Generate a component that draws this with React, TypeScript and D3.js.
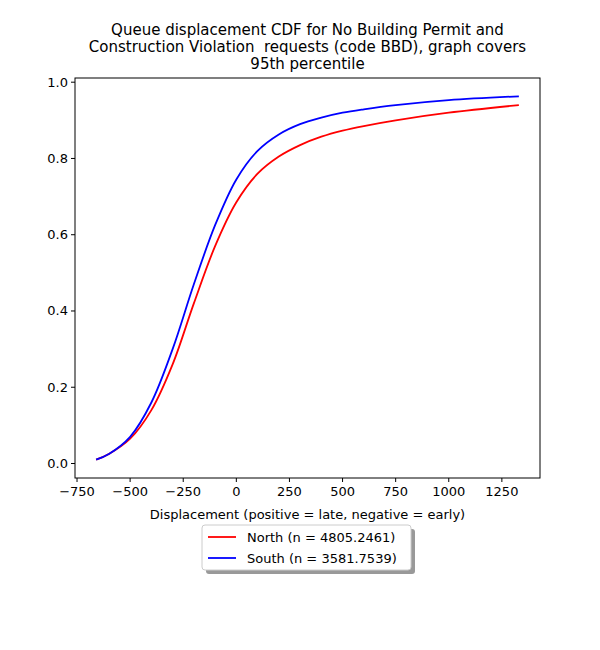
import React from "react";
import * as d3 from "d3";

const xs = [-660, -600, -500, -400, -300, -200, -100, 0, 100, 200, 300, 400, 500, 600, 750, 1000, 1330];
const north = [0.01, 0.025, 0.065, 0.14, 0.26, 0.42, 0.57, 0.685, 0.76, 0.805, 0.835, 0.857, 0.873, 0.885, 0.9, 0.92, 0.94];
const south = [0.01, 0.025, 0.07, 0.16, 0.3, 0.47, 0.625, 0.745, 0.82, 0.863, 0.89, 0.907, 0.92, 0.929, 0.94, 0.953, 0.963];
const xTicks = [-750, -500, -250, 0, 250, 500, 750, 1000, 1250];
const yTicks = [0, 0.2, 0.4, 0.6, 0.8, 1.0];
const titleLines = [
  "Queue displacement CDF for No Building Permit and",
  "Construction Violation  requests (code BBD), graph covers",
  "95th percentile",
];
const series = [
  { name: "North (n = 4805.2461)", color: "red", values: north },
  { name: "South (n = 3581.7539)", color: "blue", values: south },
];

export default function App() {
  const L = 75, R = 540, T = 78, B = 478;
  const x = d3.scaleLinear().domain([-759.5, 1429.5]).range([L, R]);
  const y = d3.scaleLinear().domain([-0.038, 1.011]).range([B, T]);
  const line = d3.line<number>().x((_, i) => x(xs[i])).y((v) => y(v)).curve(d3.curveCatmullRom.alpha(0.5));
  const font = "DejaVu Sans, sans-serif";
  return (
    <svg width={600} height={650} style={{ position: "absolute", left: 0, top: 0 }} fontFamily={font}>
      <rect width={600} height={650} fill="white" />
      {titleLines.map((t, i) => (
        <text key={i} x={(L + R) / 2} y={35 + i * 17} textAnchor="middle" fontSize={15} style={{ whiteSpace: "pre" }}>{t}</text>
      ))}
      {series.map((s) => (
        <path key={s.name} d={line(s.values) || ""} fill="none" stroke={s.color} strokeWidth={1.8} />
      ))}
      <rect x={L} y={T} width={R - L} height={B - T} fill="none" stroke="black" strokeWidth={1} />
      {xTicks.map((t) => (
        <g key={t}>
          <line x1={x(t)} x2={x(t)} y1={B} y2={B + 4} stroke="black" />
          <text x={x(t)} y={B + 18} textAnchor="middle" fontSize={13}>{t < 0 ? "\u2212" + Math.abs(t) : String(t)}</text>
        </g>
      ))}
      {yTicks.map((t) => (
        <g key={t}>
          <line x1={L - 4} x2={L} y1={y(t)} y2={y(t)} stroke="black" />
          <text x={L - 7} y={y(t) + 4.5} textAnchor="end" fontSize={13}>{t.toFixed(1)}</text>
        </g>
      ))}
      <text x={(L + R) / 2} y={519} textAnchor="middle" fontSize={13}>Displacement (positive = late, negative = early)</text>
      <g>
        <rect x={206} y={529} width={209} height={45} rx={3} fill="#555" opacity={0.6} />
        <rect x={202} y={525} width={209} height={45} rx={3} fill="white" stroke="#ccc" />
        {series.map((s, i) => (
          <g key={s.name}>
            <line x1={208} x2={236} y1={537 + i * 21} y2={537 + i * 21} stroke={s.color} strokeWidth={1.8} />
            <text x={247} y={542 + i * 21} fontSize={13}>{s.name}</text>
          </g>
        ))}
      </g>
    </svg>
  );
}
